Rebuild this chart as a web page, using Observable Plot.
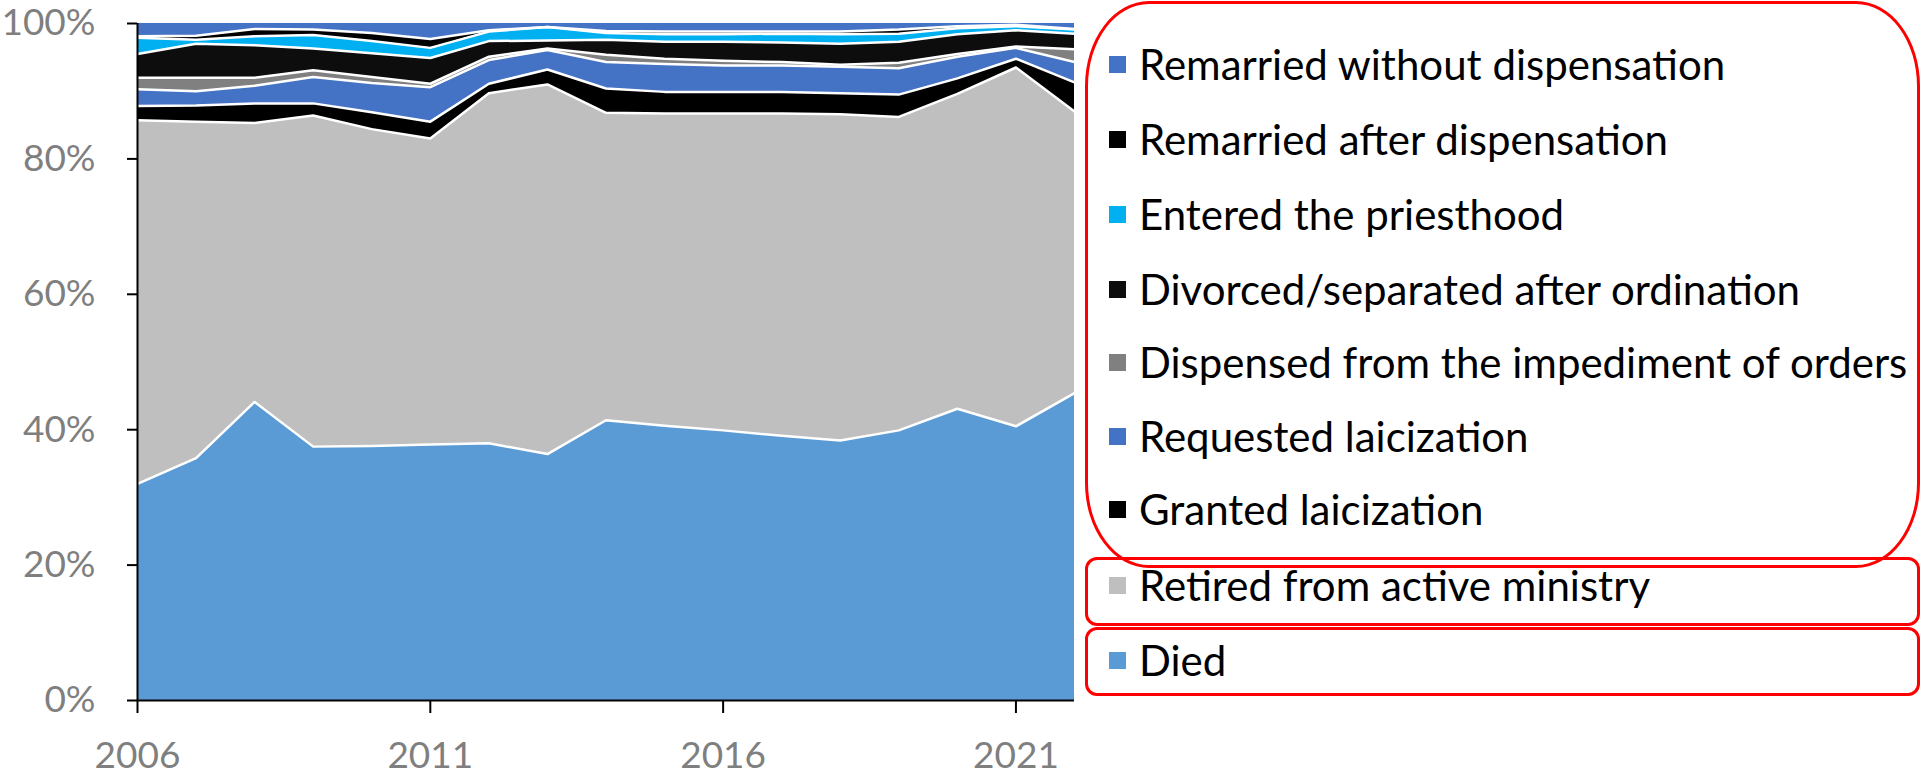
<!DOCTYPE html>
<html>
<head>
<meta charset="utf-8">
<script src="https://cdn.jsdelivr.net/npm/d3@7"></script>
<script src="https://cdn.jsdelivr.net/npm/@observablehq/plot@0.6"></script>
<style>
  html, body { margin: 0; padding: 0; background: #fff; }
  body { width: 1921px; height: 780px; position: relative; overflow: hidden; font-family: Lato, "Open Sans", sans-serif; }
  #chart { position: absolute; left: 0; top: 0; }
  #chart svg text { fill: #7f7f7f; }
  #chart svg g[aria-label$="tick"] path, #chart svg .tick line { stroke: #000; stroke-width: 2px; }
  .legend-row { position: absolute; left: 1109px; height: 44px; display: flex; align-items: center; white-space: nowrap; }
  .legend-sw { width: 17px; height: 17px; margin-right: 13px; flex: none; }
  .legend-tx { font-size: 42px; line-height: 44px; color: #000; }
  .box { position: absolute; border: 3px solid #f00; box-sizing: border-box; }
</style>
</head>
<body>
<div id="chart"></div>
<div class="box" style="left:1085px; top:1px; width:835px; height:567px; border-radius:64px / 85px;"></div>
<div class="box" style="left:1085px; top:557px; width:835px; height:69px; border-radius:12px;"></div>
<div class="box" style="left:1085px; top:627px; width:835px; height:69px; border-radius:12px;"></div>
<div id="legend"></div>
<script>
// ---- data (percent of total, bottom-to-top stacking order) ----
const years = [2006, 2007, 2008, 2009, 2010, 2011, 2012, 2013, 2014, 2015, 2016, 2017, 2018, 2019, 2020, 2021, 2022];

const seriesNames = [
  "Died",
  "Retired from active ministry",
  "Granted laicization",
  "Requested laicization",
  "Dispensed from the impediment of orders",
  "Divorced/separated after ordination",
  "Entered the priesthood",
  "Remarried after dispensation",
  "Remarried without dispensation"
];
const seriesColors = ["#5B9BD5", "#BFBFBF", "#000000", "#4472C4", "#808080", "#0D0D0D", "#00B0F0", "#000000", "#4472C4"];

const died        = [32.0, 35.8, 44.1, 37.5, 37.6, 37.8, 38.0, 36.4, 41.4, 40.6, 39.9, 39.1, 38.4, 39.9, 43.1, 40.5, 45.4];
const retired     = [53.7, 49.7, 41.2, 48.9, 46.8, 45.2, 51.7, 54.6, 45.4, 46.1, 46.8, 47.6, 48.2, 46.3, 46.5, 53.0, 41.6];
const granted     = [2.1, 2.4, 2.9, 1.8, 2.5, 2.5, 1.4, 2.2, 3.6, 3.2, 3.2, 3.2, 3.1, 3.3, 2.3, 1.3, 4.3];
const requested   = [2.5, 2.1, 2.6, 3.9, 4.3, 5.1, 3.5, 2.9, 3.9, 4.1, 3.9, 3.9, 3.9, 3.9, 3.2, 1.6, 3.0];
const dispensed   = [1.7, 2.0, 1.2, 1.0, 0.9, 0.5, 0.5, 0.2, 1.1, 0.8, 0.7, 0.5, 0.3, 0.8, 0.4, 0.2, 1.9];
const divorced    = [3.5, 5.0, 4.8, 3.2, 3.5, 3.8, 2.3, 1.2, 2.2, 2.5, 2.8, 2.9, 3.1, 3.1, 2.9, 2.4, 2.3];
const entered     = [2.4, 0.6, 1.3, 2.0, 1.8, 1.5, 1.4, 2.0, 1.0, 1.1, 1.1, 1.3, 1.4, 1.2, 0.9, 0.6, 0.6];
const remarriedAfter   = [0.2, 0.6, 1.1, 0.8, 1.2, 1.3, 0.2, 0.0, 0.3, 0.4, 0.4, 0.3, 0.4, 0.6, 0.3, 0.2, 0.1];
const remarriedWithout = [1.9, 1.8, 0.8, 0.9, 1.4, 2.3, 1.0, 0.5, 1.1, 1.2, 1.2, 1.2, 1.2, 0.9, 0.4, 0.2, 0.8];

const seriesValues = [died, retired, granted, requested, dispensed, divorced, entered, remarriedAfter, remarriedWithout];

const yTicks = [0, 20, 40, 60, 80, 100];
const xTicks = [2006, 2011, 2016, 2021];

// ---- long table for Plot ----
const rows = [];
seriesNames.forEach((name, i) => {
  years.forEach((yr, j) => {
    rows.push({year: yr, series: name, value: seriesValues[i][j], color: seriesColors[i],
               edge: i === seriesNames.length - 1 ? "transparent" : "white"});
  });
});

const chart = Plot.plot({
  width: 1080,
  height: 780,
  marginLeft: 137,
  marginRight: 6,
  marginTop: 23,
  marginBottom: 80,
  style: {fontFamily: "Lato, 'Open Sans', sans-serif", fontSize: "37px", color: "#000", background: "transparent", overflow: "visible"},
  color: {type: "identity"},
  x: {domain: [years[0], years[years.length - 1]], ticks: xTicks, tickFormat: d => String(d), tickSize: 13, tickPadding: 28, label: null},
  y: {domain: [0, 100], ticks: yTicks, tickFormat: d => d + "%", tickSize: 10, tickPadding: 32, label: null},
  marks: [
    Plot.areaY(rows, {x: "year", y: "value", z: "series", fill: "color", order: seriesNames}),
    Plot.lineY(rows, Plot.stackY2({x: "year", y: "value", z: "series", order: seriesNames, stroke: "edge", strokeWidth: 2.5})),
    Plot.ruleX([years[0]], {stroke: "#000", strokeWidth: 2}),
    Plot.ruleY([0], {stroke: "#000", strokeWidth: 2})
  ]
});
document.getElementById("chart").appendChild(chart);

// ---- legend (top to bottom = reverse stacking order) ----
const legendCenters = [66, 141, 216, 291, 364, 438, 511, 587, 662];
const legend = document.getElementById("legend");
seriesNames.slice().reverse().forEach((name, k) => {
  const i = seriesNames.length - 1 - k;
  const row = document.createElement("div");
  row.className = "legend-row";
  row.style.top = (legendCenters[k] - 24) + "px";
  const sw = document.createElement("div");
  sw.className = "legend-sw";
  sw.style.background = seriesColors[i];
  const tx = document.createElement("div");
  tx.className = "legend-tx";
  tx.textContent = name;
  row.appendChild(sw);
  row.appendChild(tx);
  legend.appendChild(row);
});
</script>
</body>
</html>
